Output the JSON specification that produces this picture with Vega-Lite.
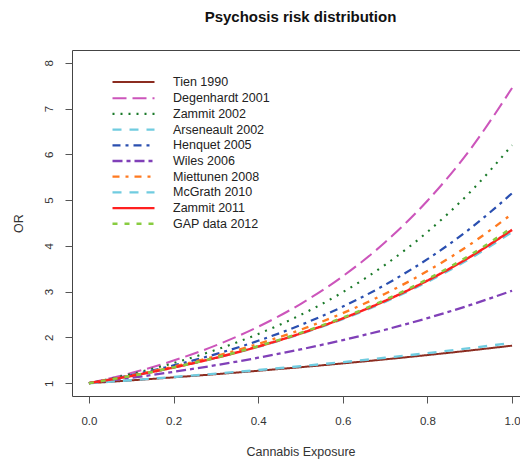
{
  "$schema": "https://vega.github.io/schema/vega-lite/v6.json",
  "autosize": {"type": "none"},
  "width": 457,
  "height": 346,
  "padding": {"left": 72, "top": 50, "right": 0, "bottom": 66},
  "background": "white",
  "config": {
    "font": "Liberation Sans",
    "view": {"stroke": "#444", "strokeWidth": 1},
    "axis": {"grid": false, "domain": false, "tickColor": "#555", "labelColor": "#333", "titleColor": "#333", "labelFontSize": 11.5, "titleFontSize": 12.5, "titleFontWeight": "normal"}
  },
  "title": {"text": "Psychosis risk distribution", "fontSize": 15, "fontWeight": "bold", "color": "#111", "baseline": "alphabetic", "offset": 13, "anchor": "middle", "frame": "group"},
  "data": {"values": [
    {"study":"Tien 1990","x":0,"or":1},{"study":"Tien 1990","x":0.1,"or":1.0617},{"study":"Tien 1990","x":0.2,"or":1.1273},{"study":"Tien 1990","x":0.3,"or":1.1968},{"study":"Tien 1990","x":0.4,"or":1.2706},{"study":"Tien 1990","x":0.5,"or":1.349},{"study":"Tien 1990","x":0.6,"or":1.4323},{"study":"Tien 1990","x":0.7,"or":1.5207},{"study":"Tien 1990","x":0.8,"or":1.6145},{"study":"Tien 1990","x":0.9,"or":1.7142},{"study":"Tien 1990","x":1,"or":1.82},
    {"study":"Degenhardt 2001","x":0,"or":1},{"study":"Degenhardt 2001","x":0.1,"or":1.2224},{"study":"Degenhardt 2001","x":0.2,"or":1.4943},{"study":"Degenhardt 2001","x":0.3,"or":1.8266},{"study":"Degenhardt 2001","x":0.4,"or":2.2329},{"study":"Degenhardt 2001","x":0.5,"or":2.7295},{"study":"Degenhardt 2001","x":0.6,"or":3.3365},{"study":"Degenhardt 2001","x":0.7,"or":4.0786},{"study":"Degenhardt 2001","x":0.8,"or":4.9857},{"study":"Degenhardt 2001","x":0.9,"or":6.0946},{"study":"Degenhardt 2001","x":1,"or":7.45},
    {"study":"Zammit 2002","x":0,"or":1},{"study":"Zammit 2002","x":0.1,"or":1.2002},{"study":"Zammit 2002","x":0.2,"or":1.4405},{"study":"Zammit 2002","x":0.3,"or":1.7289},{"study":"Zammit 2002","x":0.4,"or":2.075},{"study":"Zammit 2002","x":0.5,"or":2.49},{"study":"Zammit 2002","x":0.6,"or":2.9885},{"study":"Zammit 2002","x":0.7,"or":3.5868},{"study":"Zammit 2002","x":0.8,"or":4.3049},{"study":"Zammit 2002","x":0.9,"or":5.1668},{"study":"Zammit 2002","x":1,"or":6.2},
    {"study":"Arseneault 2002","x":0,"or":1},{"study":"Arseneault 2002","x":0.1,"or":1.157},{"study":"Arseneault 2002","x":0.2,"or":1.3386},{"study":"Arseneault 2002","x":0.3,"or":1.5488},{"study":"Arseneault 2002","x":0.4,"or":1.792},{"study":"Arseneault 2002","x":0.5,"or":2.0736},{"study":"Arseneault 2002","x":0.6,"or":2.3992},{"study":"Arseneault 2002","x":0.7,"or":2.7759},{"study":"Arseneault 2002","x":0.8,"or":3.2117},{"study":"Arseneault 2002","x":0.9,"or":3.716},{"study":"Arseneault 2002","x":1,"or":4.3},
    {"study":"Henquet 2005","x":0,"or":1},{"study":"Henquet 2005","x":0.1,"or":1.1781},{"study":"Henquet 2005","x":0.2,"or":1.3879},{"study":"Henquet 2005","x":0.3,"or":1.6351},{"study":"Henquet 2005","x":0.4,"or":1.9263},{"study":"Henquet 2005","x":0.5,"or":2.2694},{"study":"Henquet 2005","x":0.6,"or":2.6735},{"study":"Henquet 2005","x":0.7,"or":3.1497},{"study":"Henquet 2005","x":0.8,"or":3.7106},{"study":"Henquet 2005","x":0.9,"or":4.3714},{"study":"Henquet 2005","x":1,"or":5.15},
    {"study":"Wiles 2006","x":0,"or":1},{"study":"Wiles 2006","x":0.1,"or":1.1169},{"study":"Wiles 2006","x":0.2,"or":1.2475},{"study":"Wiles 2006","x":0.3,"or":1.3933},{"study":"Wiles 2006","x":0.4,"or":1.5562},{"study":"Wiles 2006","x":0.5,"or":1.7378},{"study":"Wiles 2006","x":0.6,"or":1.941},{"study":"Wiles 2006","x":0.7,"or":2.1679},{"study":"Wiles 2006","x":0.8,"or":2.4213},{"study":"Wiles 2006","x":0.9,"or":2.7044},{"study":"Wiles 2006","x":1,"or":3.02},
    {"study":"Miettunen 2008","x":0,"or":1},{"study":"Miettunen 2008","x":0.1,"or":1.1674},{"study":"Miettunen 2008","x":0.2,"or":1.3628},{"study":"Miettunen 2008","x":0.3,"or":1.591},{"study":"Miettunen 2008","x":0.4,"or":1.8573},{"study":"Miettunen 2008","x":0.5,"or":2.1679},{"study":"Miettunen 2008","x":0.6,"or":2.5308},{"study":"Miettunen 2008","x":0.7,"or":2.9545},{"study":"Miettunen 2008","x":0.8,"or":3.4491},{"study":"Miettunen 2008","x":0.9,"or":4.0265},{"study":"Miettunen 2008","x":1,"or":4.7},
    {"study":"McGrath 2010","x":0,"or":1},{"study":"McGrath 2010","x":0.1,"or":1.0652},{"study":"McGrath 2010","x":0.2,"or":1.1346},{"study":"McGrath 2010","x":0.3,"or":1.2086},{"study":"McGrath 2010","x":0.4,"or":1.2874},{"study":"McGrath 2010","x":0.5,"or":1.3711},{"study":"McGrath 2010","x":0.6,"or":1.4605},{"study":"McGrath 2010","x":0.7,"or":1.5557},{"study":"McGrath 2010","x":0.8,"or":1.6572},{"study":"McGrath 2010","x":0.9,"or":1.7652},{"study":"McGrath 2010","x":1,"or":1.88},
    {"study":"Zammit 2011","x":0,"or":1},{"study":"Zammit 2011","x":0.1,"or":1.1584},{"study":"Zammit 2011","x":0.2,"or":1.3419},{"study":"Zammit 2011","x":0.3,"or":1.5544},{"study":"Zammit 2011","x":0.4,"or":1.8007},{"study":"Zammit 2011","x":0.5,"or":2.0857},{"study":"Zammit 2011","x":0.6,"or":2.4161},{"study":"Zammit 2011","x":0.7,"or":2.7988},{"study":"Zammit 2011","x":0.8,"or":3.2421},{"study":"Zammit 2011","x":0.9,"or":3.7557},{"study":"Zammit 2011","x":1,"or":4.35},
    {"study":"GAP data 2012","x":0,"or":1},{"study":"GAP data 2012","x":0.1,"or":1.1597},{"study":"GAP data 2012","x":0.2,"or":1.3449},{"study":"GAP data 2012","x":0.3,"or":1.5597},{"study":"GAP data 2012","x":0.4,"or":1.8088},{"study":"GAP data 2012","x":0.5,"or":2.0976},{"study":"GAP data 2012","x":0.6,"or":2.4326},{"study":"GAP data 2012","x":0.7,"or":2.8211},{"study":"GAP data 2012","x":0.8,"or":3.2717},{"study":"GAP data 2012","x":0.9,"or":3.7942},{"study":"GAP data 2012","x":1,"or":4.4}
  ]},
  "mark": {"type": "line", "interpolate": "monotone"},
  "encoding": {
    "x": {"field": "x", "type": "quantitative", "title": "Cannabis Exposure",
      "scale": {"domain": [-0.04, 1.04], "nice": false, "zero": false},
      "axis": {"values": [0, 0.2, 0.4, 0.6, 0.8, 1.0], "format": ".1f", "tickSize": 7, "labelPadding": 12, "titlePadding": 19, "labelFlush": false}},
    "y": {"field": "or", "type": "quantitative", "title": "OR",
      "scale": {"domain": [0.72, 8.28], "nice": false, "zero": false},
      "axis": {"values": [1, 2, 3, 4, 5, 6, 7, 8], "tickSize": 7, "labelAngle": -90, "labelAlign": "center", "labelBaseline": "bottom", "labelPadding": 11, "titlePadding": 18}},
    "color": {"field": "study", "type": "nominal", "title": null,
      "scale": {"domain": ["Tien 1990","Degenhardt 2001","Zammit 2002","Arseneault 2002","Henquet 2005","Wiles 2006","Miettunen 2008","McGrath 2010","Zammit 2011","GAP data 2012"],
        "range": ["#8B2C20","#CC55BB","#1B7A2A","#70CCE0","#2A4FB0","#8040B8","#FF7A20","#70CCE0","#FF2020","#88CC40"]},
      "legend": {"orient": "none", "legendX": 53, "legendY": 24, "symbolType": "M-3,0H3", "symbolSize": 196, "labelFontSize": 12.5, "labelColor": "#222", "labelOffset": 31, "rowPadding": 0.7, "padding": 0}},
    "strokeDash": {"field": "study", "type": "nominal", "title": null,
      "scale": {"domain": ["Tien 1990","Degenhardt 2001","Zammit 2002","Arseneault 2002","Henquet 2005","Wiles 2006","Miettunen 2008","McGrath 2010","Zammit 2011","GAP data 2012"],
        "range": [[1,0],[14,6],[2,6],[9,8],[8,5,3,5],[10,4,4,4],[7,6,3,6],[9,8],[1,0],[5,7]]}},
    "strokeWidth": {"field": "study", "type": "nominal", "title": null,
      "scale": {"domain": ["Tien 1990","Degenhardt 2001","Zammit 2002","Arseneault 2002","Henquet 2005","Wiles 2006","Miettunen 2008","McGrath 2010","Zammit 2011","GAP data 2012"],
        "range": [2, 2.5, 2.5, 2, 2, 3, 2, 2, 1.5, 3]}}
  }
}
